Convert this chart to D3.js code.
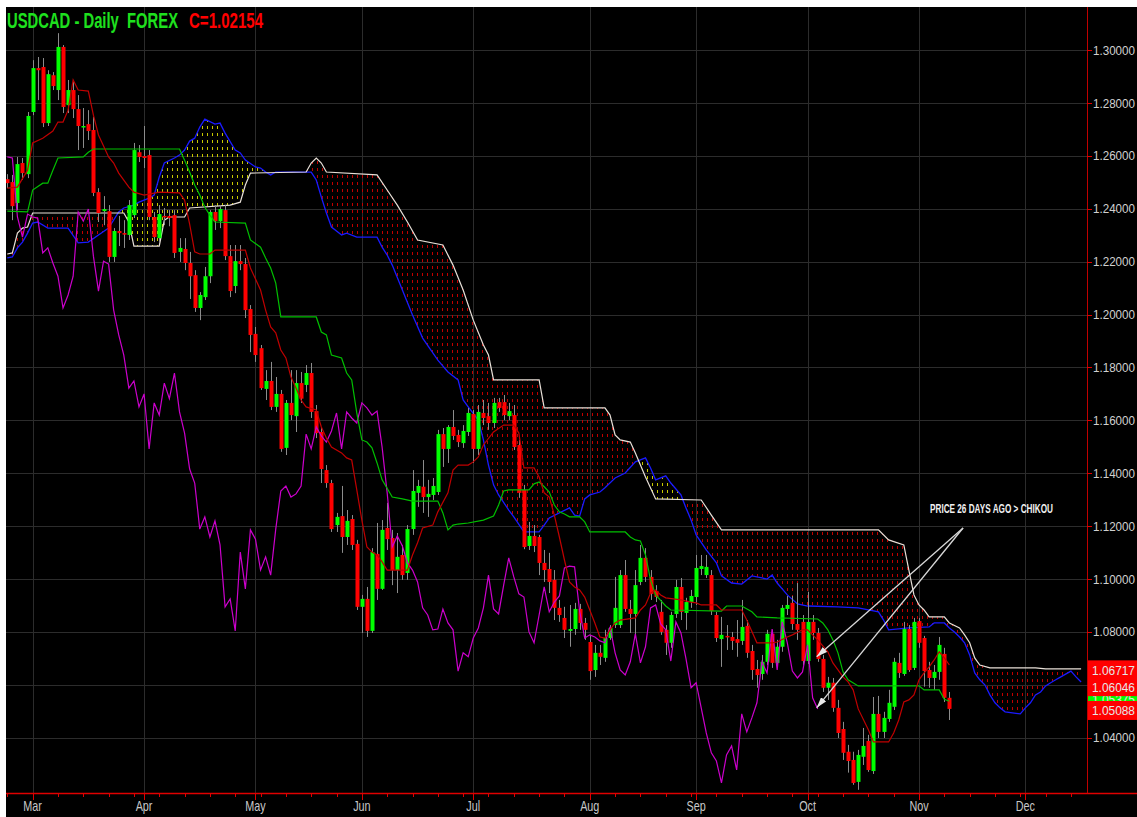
<!DOCTYPE html>
<html>
<head>
<meta charset="utf-8">
<script src="https://cdn.jsdelivr.net/npm/d3@7"></script>
<style>
body{margin:0;background:#fff;}
svg{display:block;}
</style>
</head>
<body>
<div id="chart"></div>
<script>
"use strict";

/* USDCAD daily candles, first bar = Mon 23 Feb 2009, weekdays only */
let openP = [
 1.2512,1.2501,1.2422,1.2573,1.2531,1.2766,1.2932,1.2936,1.2724,1.2905,
 1.2849,1.3012,1.2792,1.2849,1.2777,1.2709,1.2720,1.2698,1.2463,1.2391,
 1.2391,1.2218,1.2316,1.2308,1.2301,1.2376,1.2614,1.2599,1.2603,1.2369,
 1.2289,1.2373,1.2373,1.2376,1.2237,1.2248,1.2195,1.2149,1.2025,1.2066,
 1.2145,1.2388,1.2353,1.2395,1.2221,1.2108,1.2202,1.2191,1.2021,1.1927,
 1.1873,1.1719,1.1749,1.1651,1.1700,1.1496,1.1666,1.1616,1.1741,1.1734,
 1.1779,1.1635,1.1556,1.1412,1.1363,1.1204,1.1238,1.1159,1.1227,1.1133,
 1.0895,1.0925,1.0804,1.1095,1.0963,1.1193,1.1155,1.1034,1.1091,1.1023,
 1.1189,1.1326,1.1349,1.1310,1.1318,1.1329,1.1548,1.1492,1.1575,1.1545,
 1.1514,1.1556,1.1624,1.1492,1.1628,1.1616,1.1590,1.1669,1.1669,1.1616,
 1.1620,1.1507,1.1337,1.1125,1.1163,1.1159,1.1061,1.1038,1.0997,1.0891,
 1.0853,1.0804,1.0811,1.0887,1.0834,1.0762,1.0656,1.0721,1.0702,1.0777,
 1.0826,1.0826,1.1015,1.0887,1.0868,1.0989,1.1080,1.1008,1.0955,1.0876,
 1.0808,1.0759,1.0868,1.0970,1.0872,1.0913,1.0932,1.1038,1.1015,1.1015,
 1.0864,1.0773,1.0785,1.0781,1.0773,1.0766,1.0823,1.0728,1.0660,1.0641,
 1.0687,1.0793,1.0683,1.0744,1.0887,1.0910,1.0830,1.0838,1.0690,1.0838,
 1.0796,1.0698,1.0589,1.0608,1.0513,1.0433,1.0347,1.0316,1.0233,1.0328,
 1.0388,1.0274,1.0490,1.0422,1.0471,1.0517,1.0683,1.0641,1.0811,1.0664,
 1.0841,1.0777,1.0656,1.0626,1.0649,1.0717,1.0551
];
let highP = [
 1.2531,1.2528,1.2596,1.2592,1.2766,1.2962,1.2974,1.2970,1.2924,1.2917,
 1.3064,1.3019,1.2887,1.2887,1.2830,1.2781,1.2773,1.2747,1.2478,1.2448,
 1.2414,1.2327,1.2373,1.2357,1.2433,1.2649,1.2641,1.2713,1.2622,1.2388,
 1.2414,1.2403,1.2395,1.2395,1.2289,1.2289,1.2237,1.2168,1.2085,1.2180,
 1.2395,1.2414,1.2414,1.2414,1.2263,1.2263,1.2263,1.2214,1.2036,1.1953,
 1.1885,1.1790,1.1821,1.1764,1.1715,1.1677,1.1790,1.1790,1.1783,1.1809,
 1.1817,1.1658,1.1571,1.1431,1.1375,1.1250,1.1352,1.1261,1.1242,1.1148,
 1.0940,1.0970,1.1117,1.1212,1.1223,1.1288,1.1186,1.1174,1.1129,1.1204,
 1.1412,1.1375,1.1450,1.1375,1.1382,1.1564,1.1571,1.1582,1.1639,1.1564,
 1.1582,1.1647,1.1639,1.1658,1.1677,1.1666,1.1685,1.1685,1.1696,1.1666,
 1.1658,1.1526,1.1356,1.1216,1.1204,1.1167,1.1110,1.1099,1.1034,1.0921,
 1.0895,1.0902,1.0910,1.0906,1.0853,1.0789,1.0751,1.0751,1.0808,1.0826,
 1.1008,1.1034,1.1072,1.0921,1.1034,1.1129,1.1117,1.1034,1.0977,1.0921,
 1.0826,1.0876,1.0997,1.1004,1.0929,1.0959,1.1091,1.1091,1.1091,1.1034,
 1.0876,1.0857,1.0826,1.0800,1.0845,1.0921,1.0845,1.0751,1.0694,1.0713,
 1.0808,1.0808,1.0770,1.0902,1.0936,1.0936,1.0985,1.0864,1.0951,1.0864,
 1.0815,1.0713,1.0630,1.0626,1.0543,1.0460,1.0373,1.0347,1.0354,1.0437,
 1.0411,1.0554,1.0558,1.0498,1.0581,1.0702,1.0721,1.0838,1.0826,1.0853,
 1.0853,1.0785,1.0687,1.0675,1.0781,1.0740,1.0573
];
let lowP = [
 1.2478,1.2357,1.2395,1.2509,1.2516,1.2754,1.2811,1.2709,1.2713,1.2849,
 1.2811,1.2762,1.2762,1.2743,1.2622,1.2630,1.2660,1.2448,1.2350,1.2338,
 1.2199,1.2199,1.2259,1.2252,1.2282,1.2365,1.2577,1.2554,1.2357,1.2274,
 1.2274,1.2338,1.2334,1.2214,1.2199,1.2168,1.2059,1.2010,1.1979,1.2055,
 1.2119,1.2320,1.2327,1.2206,1.2066,1.2081,1.2168,1.1987,1.1858,1.1821,
 1.1715,1.1677,1.1639,1.1632,1.1481,1.1469,1.1601,1.1556,1.1666,1.1707,
 1.1609,1.1533,1.1363,1.1345,1.1178,1.1178,1.1099,1.1129,1.1110,1.0883,
 1.0796,1.0781,1.0796,1.0921,1.0959,1.1110,1.0977,1.0947,1.0997,1.0997,
 1.1167,1.1273,1.1250,1.1235,1.1299,1.1318,1.1424,1.1439,1.1526,1.1499,
 1.1496,1.1541,1.1439,1.1469,1.1582,1.1564,1.1571,1.1632,1.1601,1.1601,
 1.1488,1.1307,1.1113,1.1110,1.1102,1.1015,1.0989,1.0947,1.0845,1.0838,
 1.0777,1.0744,1.0789,1.0808,1.0770,1.0619,1.0630,1.0675,1.0687,1.0770,
 1.0815,1.0815,1.0876,1.0796,1.0785,1.0977,1.0989,1.0921,1.0913,1.0789,
 1.0713,1.0740,1.0853,1.0845,1.0808,1.0891,1.0902,1.1015,1.1004,1.0864,
 1.0762,1.0668,1.0732,1.0732,1.0706,1.0751,1.0702,1.0619,1.0589,1.0619,
 1.0675,1.0664,1.0664,1.0725,1.0864,1.0808,1.0770,1.0675,1.0679,1.0770,
 1.0687,1.0573,1.0543,1.0498,1.0399,1.0316,1.0268,1.0222,1.0203,1.0297,
 1.0271,1.0263,1.0399,1.0399,1.0460,1.0505,1.0626,1.0634,1.0649,1.0656,
 1.0740,1.0593,1.0589,1.0581,1.0619,1.0535,1.0467
];
let closeP = [
 1.2497,1.2410,1.2569,1.2535,1.2751,1.2932,1.2924,1.2724,1.2909,1.2864,
 1.3012,1.2785,1.2849,1.2777,1.2713,1.2713,1.2694,1.2460,1.2384,1.2399,
 1.2218,1.2316,1.2308,1.2304,1.2414,1.2622,1.2596,1.2592,1.2369,1.2293,
 1.2380,1.2369,1.2365,1.2233,1.2252,1.2195,1.2145,1.2025,1.2074,1.2145,
 1.2388,1.2353,1.2399,1.2221,1.2089,1.2202,1.2191,1.2017,1.1923,1.1847,
 1.1722,1.1749,1.1651,1.1700,1.1492,1.1666,1.1620,1.1741,1.1682,1.1779,
 1.1632,1.1552,1.1416,1.1363,1.1189,1.1235,1.1159,1.1220,1.1129,1.0895,
 1.0925,1.0804,1.1102,1.0963,1.1186,1.1151,1.1034,1.1084,1.1015,1.1189,
 1.1333,1.1352,1.1310,1.1322,1.1352,1.1548,1.1492,1.1575,1.1541,1.1518,
 1.1560,1.1628,1.1492,1.1632,1.1609,1.1590,1.1666,1.1647,1.1620,1.1635,
 1.1499,1.1326,1.1121,1.1163,1.1125,1.1061,1.1034,1.0989,1.0891,1.0864,
 1.0808,1.0811,1.0887,1.0834,1.0808,1.0652,1.0721,1.0706,1.0777,1.0815,
 1.0891,1.1015,1.0887,1.0868,1.0977,1.1080,1.1008,1.0944,1.0932,1.0800,
 1.0759,1.0864,1.0970,1.0876,1.0913,1.0936,1.1042,1.1049,1.1046,1.0879,
 1.0777,1.0789,1.0781,1.0766,1.0759,1.0819,1.0721,1.0656,1.0637,1.0687,
 1.0793,1.0683,1.0744,1.0891,1.0902,1.0830,1.0808,1.0690,1.0838,1.0796,
 1.0698,1.0589,1.0608,1.0513,1.0418,1.0343,1.0312,1.0229,1.0335,1.0369,
 1.0278,1.0490,1.0422,1.0475,1.0532,1.0687,1.0645,1.0811,1.0656,1.0838,
 1.0759,1.0652,1.0626,1.0649,1.0751,1.0551,1.0509
];

/* ichimoku lines as [trading day, price] vertices */
let tenkan = [
 [0,1.2478],[2,1.2482],[4,1.2546],[5,1.2649],[7,1.2667],[9,1.2694],[10,1.2728],[11,1.2728],
 [12,1.2773],[13,1.2887],[14,1.2849],[16,1.2845],[17,1.2754],[18,1.2679],[20,1.2596],[21,1.2573],
 [22,1.2535],[24,1.2482],[25,1.2463],[27,1.2452],[30,1.2463],[34,1.2460],[35,1.2433],[36,1.2342],
 [37,1.2237],[38,1.2229],[40,1.2229],[41,1.2244],[47,1.2244],[48,1.2176],[50,1.2093],[51,1.2017],
 [52,1.1953],[53,1.1931],[54,1.1866],[55,1.1836],[56,1.1764],[57,1.1722],[58,1.1677],[59,1.1651],
 [61,1.1639],[62,1.1575],[63,1.1533],[64,1.1499],[66,1.1477],[67,1.1458],[68,1.1450],[69,1.1337],
 [70,1.1223],[71,1.1121],[72,1.1102],[73,1.1091],[74,1.1065],[75,1.1034],[79,1.1034],[80,1.1091],
 [81,1.1137],[82,1.1193],[84,1.1204],[85,1.1254],[87,1.1326],[88,1.1412],[89,1.1431],[91,1.1431],
 [92,1.1443],[93,1.1462],[94,1.1507],[96,1.1556],[98,1.1582],[100,1.1582],[101,1.1552],[102,1.1420],
 [104,1.1420],[105,1.1386],[106,1.1326],[107,1.1310],[108,1.1242],[109,1.1159],[110,1.1072],[111,1.0989],
 [112,1.0970],[113,1.0959],[114,1.0932],[115,1.0883],[116,1.0834],[117,1.0781],[118,1.0777],[119,1.0808],
 [120,1.0834],[121,1.0845],[124,1.0853],[125,1.0883],[126,1.0902],[127,1.0947],[128,1.0959],[129,1.0940],
 [130,1.0929],[133,1.0921],[135,1.0913],[136,1.0910],[137,1.0902],[140,1.0902],[141,1.0883],[145,1.0883],
 [146,1.0845],[148,1.0759],[151,1.0759],[152,1.0762],[154,1.0781],[155,1.0789],[157,1.0808],[158,1.0808],
 [159,1.0789],[160,1.0770],[162,1.0725],[163,1.0683],[165,1.0630],[166,1.0611],[167,1.0581],[168,1.0509],
 [170,1.0430],[171,1.0384],[174,1.0384],[175,1.0418],[176,1.0467],[177,1.0535],[178,1.0543],[179,1.0562],
 [180,1.0619],[181,1.0645],[182,1.0668],[183,1.0694],[184,1.0725],[185,1.0702],[186,1.0675]
];
let kijun = [
 [0,1.2391],[4,1.2388],[5,1.2471],[7,1.2497],[8,1.2497],[9,1.2546],[10,1.2592],[15,1.2596],
 [16,1.2614],[17,1.2626],[34,1.2626],[35,1.2584],[36,1.2539],[37,1.2490],[38,1.2452],[39,1.2406],
 [40,1.2376],[41,1.2350],[47,1.2346],[48,1.2282],[50,1.2255],[51,1.2214],[52,1.2176],[53,1.2119],
 [54,1.1991],[61,1.1991],[62,1.1934],[63,1.1923],[64,1.1847],[66,1.1836],[67,1.1779],[68,1.1753],
 [69,1.1628],[70,1.1526],[71,1.1518],[72,1.1496],[73,1.1439],[74,1.1375],[76,1.1310],[78,1.1303],
 [80,1.1295],[85,1.1295],[86,1.1250],[87,1.1186],[88,1.1204],[89,1.1208],[91,1.1212],[94,1.1223],
 [96,1.1238],[97,1.1280],[98,1.1333],[99,1.1337],[103,1.1337],[104,1.1360],[105,1.1367],[106,1.1349],
 [107,1.1329],[108,1.1280],[109,1.1254],[110,1.1246],[111,1.1235],[113,1.1235],[114,1.1216],[115,1.1178],
 [122,1.1178],[123,1.1159],[124,1.1148],[125,1.1144],[126,1.1091],[127,1.0997],[128,1.0940],[130,1.0898],
 [131,1.0883],[141,1.0879],[142,1.0898],[145,1.0898],[147,1.0876],[148,1.0857],[152,1.0853],[160,1.0849],
 [161,1.0834],[162,1.0808],[163,1.0770],[164,1.0721],[165,1.0649],[166,1.0619],[168,1.0596],[180,1.0596],
 [181,1.0581],[184,1.0581],[185,1.0545],[186,1.0538]
];
let senkouA = [
 [0,1.2229],[1,1.2233],[2,1.2308],[3,1.2327],[4,1.2331],[5,1.2384],[23,1.2384],[24,1.2350],
 [25,1.2259],[30,1.2259],[31,1.2357],[32,1.2369],[35,1.2369],[36,1.2403],[44,1.2414],[46,1.2425],
 [47,1.2490],[48,1.2535],[59,1.2539],[60,1.2573],[61,1.2592],[62,1.2573],[63,1.2539],[73,1.2528],
 [75,1.2471],[77,1.2414],[79,1.2350],[81,1.2282],[86,1.2263],[88,1.2187],[90,1.2093],[92,1.1979],
 [94,1.1885],[95,1.1847],[96,1.1753],[105,1.1753],[106,1.1647],[118,1.1647],[119,1.1620],[120,1.1545],
 [121,1.1526],[123,1.1518],[124,1.1477],[126,1.1386],[128,1.1303],[137,1.1299],[139,1.1242],[141,1.1186],
 [172,1.1186],[174,1.1148],[177,1.1129],[178,1.1034],[179,1.0940],[180,1.0902],[181,1.0883],[182,1.0857],
 [185,1.0857],[186,1.0834],[188,1.0815],[189,1.0789],[190,1.0759],[191,1.0702],[192,1.0675],[194,1.0664],
 [203,1.0664],[205,1.0660],[212,1.0660]
];
let senkouB = [
 [0,1.2214],[1,1.2218],[2,1.2252],[3,1.2274],[4,1.2308],[5,1.2346],[6,1.2350],[8,1.2327],
 [12,1.2327],[14,1.2271],[16,1.2274],[18,1.2301],[20,1.2327],[22,1.2388],[23,1.2403],[25,1.2414],
 [26,1.2425],[28,1.2440],[29,1.2452],[30,1.2520],[31,1.2573],[33,1.2592],[34,1.2603],[35,1.2622],
 [36,1.2656],[37,1.2667],[38,1.2709],[39,1.2739],[41,1.2720],[42,1.2724],[43,1.2686],[45,1.2622],
 [46,1.2611],[47,1.2584],[49,1.2558],[50,1.2554],[51,1.2539],[52,1.2528],[53,1.2539],[60,1.2539],
 [61,1.2509],[62,1.2444],[63,1.2384],[64,1.2331],[66,1.2301],[67,1.2308],[69,1.2293],[73,1.2293],
 [74,1.2255],[75,1.2225],[76,1.2187],[78,1.2093],[80,1.1998],[82,1.1911],[85,1.1828],[87,1.1783],
 [89,1.1753],[90,1.1677],[91,1.1651],[93,1.1601],[94,1.1526],[95,1.1431],[96,1.1356],[97,1.1318],
 [99,1.1261],[100,1.1235],[102,1.1178],[105,1.1178],[106,1.1204],[107,1.1231],[109,1.1250],[111,1.1269],
 [112,1.1242],[113,1.1238],[114,1.1303],[115,1.1318],[117,1.1329],[118,1.1345],[120,1.1382],[122,1.1401],
 [124,1.1443],[126,1.1458],[127,1.1420],[128,1.1375],[130,1.1390],[131,1.1363],[133,1.1318],[134,1.1269],
 [135,1.1223],[136,1.1167],[138,1.1110],[140,1.1061],[141,1.1012],[143,1.0985],[145,1.0981],[147,1.1012],
 [149,1.1004],[150,1.1000],[151,1.1015],[152,1.0985],[154,1.0940],[156,1.0906],[158,1.0898],[164,1.0895],
 [168,1.0891],[172,1.0876],[173,1.0845],[174,1.0808],[178,1.0815],[182,1.0819],[183,1.0834],[185,1.0834],
 [186,1.0815],[187,1.0800],[188,1.0781],[189,1.0759],[190,1.0713],[191,1.0645],[192,1.0619],[193,1.0600],
 [194,1.0562],[195,1.0532],[196,1.0513],[197,1.0498],[200,1.0490],[201,1.0513],[202,1.0532],[203,1.0562],
 [204,1.0573],[205,1.0596],[206,1.0608],[207,1.0619],[208,1.0630],[210,1.0652],[211,1.0630],[212,1.0611]
];

let priceTicks = [1.04,1.06,1.08,1.10,1.12,1.14,1.16,1.18,1.20,1.22,1.24,1.26,1.28,1.30];
let monthNames = ["Jan","Feb","Mar","Apr","May","Jun","Jul","Aug","Sep","Oct","Nov","Dec"];
let lastLabels = [
 {text:"1.06717", price:1.06717, fill:"#ff0000"},
 {text:"1.06046", price:1.06046, fill:"#ff0000"},
 {text:"1.05375", price:1.05375, fill:"#00ff00"},
 {text:"1.05088", price:1.05088, fill:"#ff0000"}
];
let chikouShift = 26;
let nDays = 213;

// trading calendar (weekdays)
let days = [];
let dt = new Date(2009,1,23);
while(days.length < nDays){
 if(dt.getDay()!==0 && dt.getDay()!==6) days.push(new Date(dt));
 dt.setDate(dt.getDate()+1);
}

let W = 1137, H = 817;
let plotL = 6, plotT = 7, plotR = 1087, plotB = 793;

let svg = d3.select("#chart")
.append("svg")
.attr("width",W)
.attr("height",H);

svg.append("rect")
.attr("x",plotL).attr("y",plotT)
.attr("width",W-plotL).attr("height",H-plotT)
.attr("fill","#000");

// scales
let xScale = d3.scaleLinear()
.domain([0,nDays-1])
.range([7.3, 7.3+(nDays-1)*5.065]);

let yScale = d3.scaleLinear()
.domain([1.0191,1.3163])
.range([plotB,plotT]);

let defs = svg.append("defs");
defs.append("clipPath").attr("id","plotClip")
.append("rect").attr("x",plotL).attr("y",plotT)
.attr("width",plotR-plotL).attr("height",plotB-plotT);

// grid
svg.selectAll(".hgrid")
.data(priceTicks)
.join("line")
.attr("x1",plotL).attr("x2",plotR)
.attr("y1",d=>Math.round(yScale(d))+0.5)
.attr("y2",d=>Math.round(yScale(d))+0.5)
.attr("stroke","#2c2c2c");

let monthIdx = [];
let mondayIdx = [];
for(let i=0;i<days.length;i=i+1){
 if(i>0 && days[i].getMonth()!==days[i-1].getMonth()) monthIdx.push(i);
 if(days[i].getDay()===1) mondayIdx.push(i);
}

svg.selectAll(".vgrid")
.data(monthIdx)
.join("line")
.attr("x1",d=>Math.round(xScale(d))+0.5)
.attr("x2",d=>Math.round(xScale(d))+0.5)
.attr("y1",plotT).attr("y2",plotB)
.attr("stroke","#2c2c2c");

// cloud fill
let lineGen = d3.line().x(p=>xScale(p[0])).y(p=>yScale(p[1]));

function edgePath(pts, edgeY){
 let x0 = xScale(pts[0][0]);
 let x1 = xScale(pts[pts.length-1][0]);
 return lineGen(pts)+"L"+x1+","+edgeY+"L"+x0+","+edgeY+"Z";
}
defs.append("clipPath").attr("id","belowA").append("path").attr("d",edgePath(senkouA,plotB));
defs.append("clipPath").attr("id","aboveA").append("path").attr("d",edgePath(senkouA,plotT));
defs.append("clipPath").attr("id","belowB").append("path").attr("d",edgePath(senkouB,plotB));
defs.append("clipPath").attr("id","aboveB").append("path").attr("d",edgePath(senkouB,plotT));

function dotPattern(id, color){
 let p = defs.append("pattern")
 .attr("id",id)
 .attr("patternUnits","userSpaceOnUse")
 .attr("x",Math.round(xScale(0))).attr("y",plotT)
 .attr("width",5).attr("height",7);
 p.append("rect").attr("x",0).attr("y",0).attr("width",1).attr("height",3)
 .attr("fill",color).attr("shape-rendering","crispEdges");
}
dotPattern("redDots","#c00000");
dotPattern("yellowDots","#c8c800");

let cloudX0 = xScale(0), cloudX1 = xScale(nDays-1);

svg.append("g").attr("clip-path","url(#aboveB)")
.append("rect")
.attr("clip-path","url(#belowA)")
.attr("x",cloudX0).attr("y",plotT)
.attr("width",cloudX1-cloudX0).attr("height",plotB-plotT)
.attr("fill","url(#redDots)");

svg.append("g").attr("clip-path","url(#belowB)")
.append("rect")
.attr("clip-path","url(#aboveA)")
.attr("x",cloudX0).attr("y",plotT)
.attr("width",cloudX1-cloudX0).attr("height",plotB-plotT)
.attr("fill","url(#yellowDots)");

let plotG = svg.append("g").attr("clip-path","url(#plotClip)");

plotG.append("path")
.attr("d",lineGen(senkouB))
.attr("fill","none").attr("stroke","#1a1aff").attr("stroke-width",1.3);

plotG.append("path")
.attr("d",lineGen(senkouA))
.attr("fill","none").attr("stroke","#e8e0d8").attr("stroke-width",1.2);

// candles
let candles = closeP.map(function(c,i){
 return {i:i, o:openP[i], h:highP[i], l:lowP[i], c:c};
});

plotG.selectAll(".wick")
.data(candles)
.join("line")
.attr("x1",d=>Math.round(xScale(d.i))+0.5)
.attr("x2",d=>Math.round(xScale(d.i))+0.5)
.attr("y1",d=>yScale(d.h))
.attr("y2",d=>yScale(d.l))
.attr("stroke","#8c8c8c");

plotG.selectAll(".body")
.data(candles)
.join("rect")
.attr("x",d=>Math.round(xScale(d.i))-1.5)
.attr("width",4)
.attr("y",d=>yScale(Math.max(d.o,d.c)))
.attr("height",d=>Math.max(1.5,Math.abs(yScale(d.o)-yScale(d.c))))
.attr("fill",d=>d.c>=d.o ? "#00ff00" : "#ff0000");

// chikou = close shifted back 26 days
let chikou = [];
for(let i=chikouShift;i<closeP.length;i=i+1){
 chikou.push([i-chikouShift, closeP[i]]);
}

plotG.append("path")
.attr("d",lineGen(chikou))
.attr("fill","none").attr("stroke","#cc00cc").attr("stroke-width",1.2);

plotG.append("path")
.attr("d",lineGen(kijun))
.attr("fill","none").attr("stroke","#00c000").attr("stroke-width",1.2);

plotG.append("path")
.attr("d",lineGen(tenkan))
.attr("fill","none").attr("stroke","#c00000").attr("stroke-width",1.2);

// annotation arrows
defs.append("marker")
.attr("id","arrowHead")
.attr("viewBox","0 0 10 6")
.attr("refX",10).attr("refY",3)
.attr("markerUnits","userSpaceOnUse")
.attr("markerWidth",11).attr("markerHeight",7)
.attr("orient","auto")
.append("path").attr("d","M0,0L10,3L0,6Z").attr("fill","#e8e8e8");

let arrowFrom = {day:188.7, price:1.1193};
let arrowTips = [{day:159.8, price:1.0706},{day:159.8, price:1.0513}];

svg.selectAll(".arrow")
.data(arrowTips)
.join("line")
.attr("x1",xScale(arrowFrom.day)).attr("y1",yScale(arrowFrom.price))
.attr("x2",d=>xScale(d.day)).attr("y2",d=>yScale(d.price))
.attr("stroke","#d8d8d8").attr("stroke-width",1.3)
.attr("marker-end","url(#arrowHead)");

svg.append("text")
.attr("x",930).attr("y",513)
.attr("font-family","Liberation Sans, Arial, sans-serif")
.attr("font-weight","bold")
.attr("font-size",12)
.attr("textLength",123).attr("lengthAdjust","spacingAndGlyphs")
.attr("fill","#f0f0f0")
.text("PRICE 26 DAYS AGO > CHIKOU");

// axes (red frame)
svg.append("line")
.attr("x1",plotL).attr("x2",W)
.attr("y1",plotB+0.5).attr("y2",plotB+0.5)
.attr("stroke","#e00000").attr("stroke-width",1.5);

svg.append("line")
.attr("x1",plotR+0.5).attr("x2",plotR+0.5)
.attr("y1",plotT).attr("y2",plotB)
.attr("stroke","#c00000").attr("stroke-width",1);

svg.selectAll(".ytick")
.data(priceTicks)
.join("line")
.attr("x1",plotR).attr("x2",plotR+5)
.attr("y1",d=>Math.round(yScale(d))+0.5)
.attr("y2",d=>Math.round(yScale(d))+0.5)
.attr("stroke","#e00000");

svg.selectAll(".ylabel")
.data(priceTicks)
.join("text")
.attr("x",1093)
.attr("y",d=>yScale(d)+4.5)
.attr("font-family","Liberation Sans, Arial, sans-serif")
.attr("font-size",12.5)
.attr("textLength",42).attr("lengthAdjust","spacingAndGlyphs")
.attr("fill","#d0d0d0")
.text(d=>d3.format(".5f")(d));

svg.selectAll(".xminor")
.data(mondayIdx)
.join("line")
.attr("x1",d=>Math.round(xScale(d))+0.5)
.attr("x2",d=>Math.round(xScale(d))+0.5)
.attr("y1",plotB).attr("y2",plotB+4)
.attr("stroke","#e00000");

svg.selectAll(".xmajor")
.data(monthIdx)
.join("line")
.attr("x1",d=>Math.round(xScale(d))+0.5)
.attr("x2",d=>Math.round(xScale(d))+0.5)
.attr("y1",plotB).attr("y2",plotB+7)
.attr("stroke","#e00000");

svg.selectAll(".xlabel")
.data(monthIdx)
.join("text")
.attr("x",d=>xScale(d))
.attr("y",811)
.attr("text-anchor","middle")
.attr("font-family","Liberation Sans, Arial, sans-serif")
.attr("font-size",15)
.attr("fill","#c8c8c8")
.text(d=>monthNames[days[d].getMonth()])
.each(function(){
 let w = this.getComputedTextLength();
 d3.select(this).attr("textLength",w*0.72).attr("lengthAdjust","spacingAndGlyphs");
});

// last value boxes on the price axis
let boxDy = [4, 3, -2.5, 1.5];
let boxOrder = [2,0,1,3];
for(let n=0;n<boxOrder.length;n=n+1){
 let b = lastLabels[boxOrder[n]];
 let cy = yScale(b.price)+boxDy[boxOrder[n]];
 svg.append("rect")
 .attr("x",plotR+1).attr("y",cy-9.5)
 .attr("width",W-plotR-1).attr("height",19)
 .attr("fill",b.fill);
 svg.append("text")
 .attr("x",1092).attr("y",cy+5)
 .attr("font-family","Liberation Sans, Arial, sans-serif")
 .attr("font-size",13.5)
 .attr("textLength",43).attr("lengthAdjust","spacingAndGlyphs")
 .attr("fill","#e6e6e6")
 .text(b.text);
}

// title
svg.append("text")
.attr("x",7).attr("y",28)
.attr("font-family","Liberation Sans, Arial, sans-serif")
.attr("font-weight","bold")
.attr("font-size",22)
.attr("textLength",171).attr("lengthAdjust","spacingAndGlyphs")
.style("white-space","pre")
.attr("fill","#1ee01e")
.text("USDCAD - Daily  FOREX");

svg.append("text")
.attr("x",189).attr("y",28)
.attr("font-family","Liberation Sans, Arial, sans-serif")
.attr("font-weight","bold")
.attr("font-size",22)
.attr("textLength",74).attr("lengthAdjust","spacingAndGlyphs")
.attr("fill","#ff0000")
.text("C=1.02154");
</script>
</body>
</html>
